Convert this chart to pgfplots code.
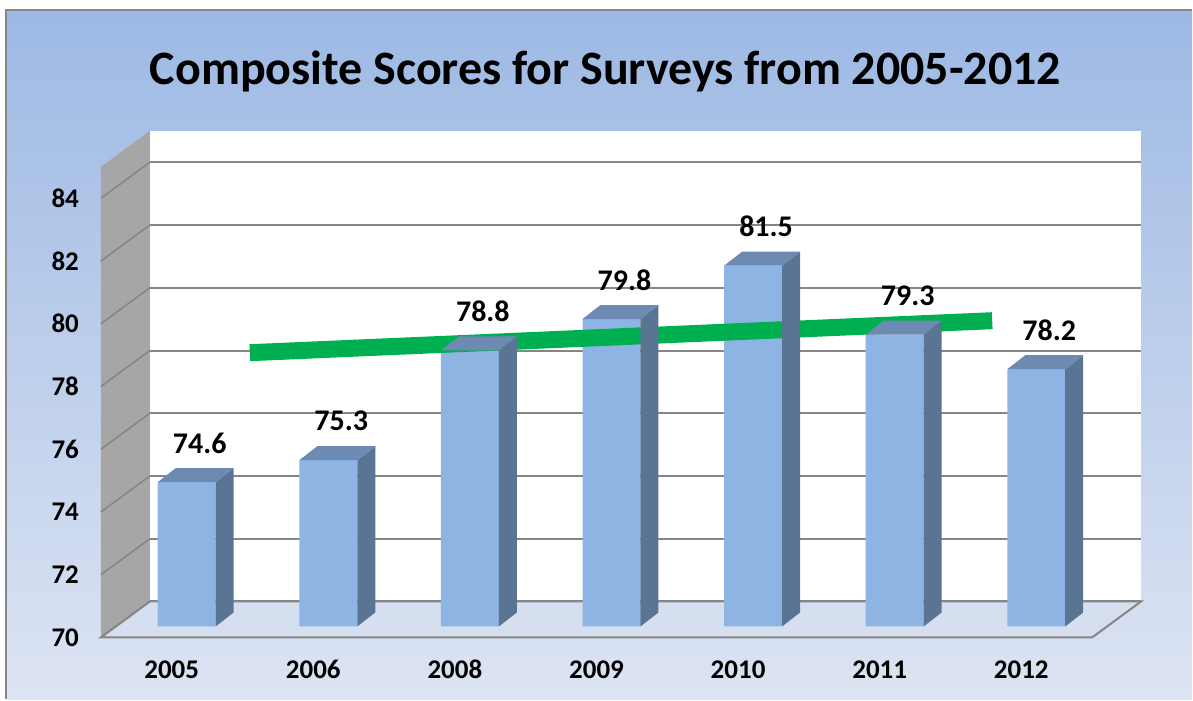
\documentclass[border=0pt]{standalone}
\usepackage{pgfplots}
\pgfplotsset{compat=1.18}
\usepackage{fontspec}
\setmainfont{Carlito}

\definecolor{barfront}{RGB}{141,180,227}
\definecolor{barside}{RGB}{90,116,148}
\definecolor{bartop}{RGB}{108,138,178}
\definecolor{wallgray}{RGB}{166,166,166}
\definecolor{gridgray}{RGB}{134,134,134}
\definecolor{bgtop}{RGB}{157,185,228}
\definecolor{bgbot}{RGB}{221,228,243}
\definecolor{floorcol}{RGB}{214,223,240}
\definecolor{trend}{RGB}{0,176,80}

% side and top faces of a bar, drawn at the top front centre of the bar
\pgfdeclareplotmark{bardepth}{%
  \pgfmathsetmacro\barh{(\rawy-70)*15.7}%
  \pgfmathsetmacro\ybot{7-\barh}%
  \pgfmathsetmacro\yfront{-\barh}%
  \pgfsetfillcolor{barside}%
  \pgfpathmoveto{\pgfpoint{14.5pt}{0pt}}%
  \pgfpathlineto{\pgfpoint{23.5pt}{7pt}}%
  \pgfpathlineto{\pgfpoint{23.5pt}{\ybot pt}}%
  \pgfpathlineto{\pgfpoint{14.5pt}{\yfront pt}}%
  \pgfpathclose
  \pgfusepath{fill}%
  \pgfsetfillcolor{bartop}%
  \pgfpathmoveto{\pgfpoint{-14.5pt}{0pt}}%
  \pgfpathlineto{\pgfpoint{14.5pt}{0pt}}%
  \pgfpathlineto{\pgfpoint{23.5pt}{7pt}}%
  \pgfpathlineto{\pgfpoint{-5.5pt}{7pt}}%
  \pgfpathclose
  \pgfusepath{fill}%
}

\begin{document}
\begin{tikzpicture}
% slide background
\fill[white] (-75pt,-49pt) rectangle (521.5pt,301pt);
\shade[top color=bgtop, bottom color=bgbot] (-71.5pt,-49pt) rectangle (521.5pt,295.5pt);
\draw[gridgray, line width=1pt] (-72pt,-49pt) -- (-72pt,296pt) -- (521.5pt,296pt);
\node[font=\bfseries\fontsize{24}{25}\selectfont] at (228pt,265pt)
  {Composite Scores for Surveys from 2005-2012};

\begin{axis}[
    scale only axis,
    width=496pt,
    height=235.5pt,
    xmin=-0.5, xmax=6.5,
    ymin=70, ymax=85,
    y coord trafo/.code={\pgfmathparse{#1-70}},
    y coord inv trafo/.code={\pgfmathparse{#1+70}},
    xtick={0,...,6},
    xticklabels={2005,2006,2008,2009,2010,2011,2012},
    ytick={70,72,...,84},
    yticklabels={70,72,74,76,78,80,82,84},
    major tick length=0pt,
    axis line style={draw=none},
    ymajorgrids,
    grid style={gridgray, line width=1pt},
    axis background/.style={fill=white},
    clip=false,
    tick label style={font=\bfseries\fontsize{13.5}{14}\selectfont},
    xticklabel style={anchor=center, xshift=-24.5pt, yshift=-34pt},
    yticklabel style={anchor=east, xshift=-32pt, yshift=-18pt},
]
% side wall
\fill[wallgray] (rel axis cs:0,0) -- (rel axis cs:0,1) -- ++(-24.5pt,-18pt)
  -- ([shift={(-24.5pt,-18pt)}]rel axis cs:0,0) -- cycle;
\pgfplotsinvokeforeach{0,2,...,14}{
  \draw[gridgray, line width=0.8pt] (rel axis cs:0,#1/15) -- ++(-24.5pt,-18pt);
}
% floor
\filldraw[fill=floorcol, draw=gridgray, line width=1pt]
  (rel axis cs:0,0) -- (rel axis cs:1,0) -- ++(-24.5pt,-18pt)
  -- ([shift={(-24.5pt,-18pt)}]rel axis cs:0,0) -- cycle;

% bars (front faces)
\addplot[ybar, bar width=29pt, fill=barfront, draw=none,
    xshift=-17pt, yshift=-12.5pt]
  coordinates {(0,74.6) (1,75.3) (2,78.8) (3,79.8) (4,81.5) (5,79.3) (6,78.2)};
% bars (side and top faces)
\addplot[only marks, mark=bardepth, xshift=-17pt, yshift=-12.5pt,
    visualization depends on={rawy \as \rawy}]
  coordinates {(0,74.6) (1,75.3) (2,78.8) (3,79.8) (4,81.5) (5,79.3) (6,78.2)};

% green line
\addplot[trend, line width=8.5pt] coordinates {(0.206,77.93) (5.449,78.95)};

% value labels
\addplot[only marks, mark=none, xshift=-17pt, yshift=-12.5pt,
    visualization depends on={rawy \as \rawy},
    nodes near coords={\pgfmathprintnumber[fixed,fixed zerofill,precision=1,assume math mode=true]{\rawy}},
    every node near coord/.append style={anchor=center, xshift=6.5pt, yshift=19.5pt,
      font=\bfseries\fontsize{15}{16}\selectfont, text=black}]
  coordinates {(0,74.6) (1,75.3) (2,78.8) (3,79.8) (4,81.5) (5,79.3) (6,78.2)};
\end{axis}
\end{tikzpicture}
\end{document}
